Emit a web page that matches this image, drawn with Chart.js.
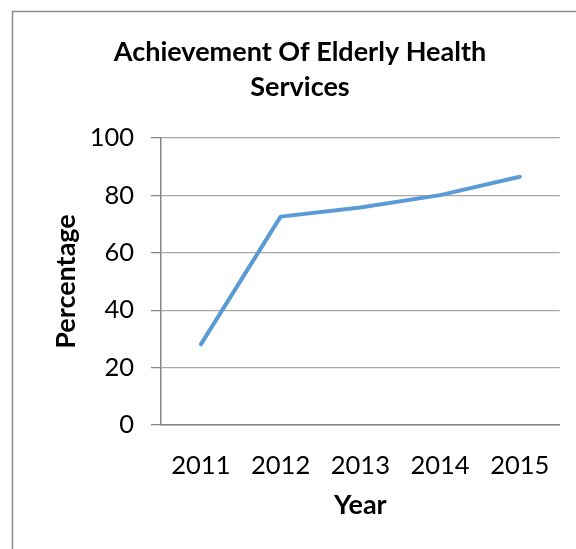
<!DOCTYPE html>
<html>
<head>
<meta charset="utf-8">
<script src="https://cdn.jsdelivr.net/npm/chart.js@4"></script>
<style>
  html, body { margin: 0; padding: 0; background: #ffffff; }
  #wrap { position: relative; width: 576px; height: 549px; }
</style>
</head>
<body>
<div id="wrap"><canvas id="c" width="576" height="549"></canvas></div>
<script>
const years = ['2011', '2012', '2013', '2014', '2015'];
const percentages = [28.1, 72.6, 75.8, 80.1, 86.5];
const yTicks = [0, 20, 40, 60, 80, 100];
const titleLines = ['Achievement Of Elderly Health', 'Services'];
const xTitle = 'Year';
const yTitle = 'Percentage';

const FONT = "Lato, 'Open Sans', 'Liberation Sans', sans-serif";

const frame = {
  id: 'frame',
  beforeDraw(chart) {
    const ctx = chart.ctx;
    ctx.save();
    ctx.strokeStyle = '#8c8c8c';
    ctx.lineWidth = 1.5;
    ctx.beginPath();
    ctx.moveTo(12.5, 549);
    ctx.lineTo(12.5, 11.5);
    ctx.lineTo(576, 11.5);
    ctx.stroke();
    ctx.restore();
  }
};

new Chart(document.getElementById('c'), {
  type: 'line',
  data: {
    labels: years,
    datasets: [{
      data: percentages,
      borderColor: '#5b9bd5',
      borderWidth: 4,
      borderCapStyle: 'round',
      borderJoinStyle: 'round',
      pointRadius: 0,
      pointHoverRadius: 0,
      tension: 0,
      fill: false
    }]
  },
  options: {
    responsive: false,
    animation: false,
    devicePixelRatio: 1,
    layout: { padding: { left: 40, right: 16, top: 0, bottom: 0 } },
    plugins: {
      legend: { display: false },
      tooltip: { enabled: false },
      title: {
        display: true,
        text: titleLines,
        color: '#000000',
        font: { family: FONT, size: 27, weight: 'bold', lineHeight: 35 / 27 },
        padding: { top: 35, bottom: 33 }
      }
    },
    scales: {
      x: {
        offset: true,
        grid: { display: false, drawTicks: false },
        border: { display: true, color: '#868686', width: 1.5 },
        ticks: {
          color: '#000000',
          font: { family: FONT, size: 25.5 },
          padding: 25,
          maxRotation: 0
        },
        title: {
          display: true,
          text: xTitle,
          color: '#000000',
          font: { family: FONT, size: 27, weight: 'bold', lineHeight: 1.2 },
          padding: { top: 0, bottom: 27.8 }
        },
        afterFit(scale) { scale.height = 124; }
      },
      y: {
        min: 0,
        max: 100,
        afterBuildTicks(scale) { scale.ticks = yTicks.map(v => ({ value: v })); },
        grid: {
          color: '#a6a6a6',
          lineWidth: 1.25,
          tickLength: 10,
          tickColor: '#868686'
        },
        border: { display: true, color: '#868686', width: 1.5 },
        ticks: {
          color: '#000000',
          font: { family: FONT, size: 25.5 },
          padding: 17
        },
        title: {
          display: true,
          text: yTitle,
          color: '#000000',
          font: { family: FONT, size: 27, weight: 'bold', lineHeight: 1.2 },
          padding: { top: 9.8, bottom: 0 }
        },
        afterFit(scale) { scale.width = 121; }
      }
    }
  },
  plugins: [frame]
});
</script>
</body>
</html>
